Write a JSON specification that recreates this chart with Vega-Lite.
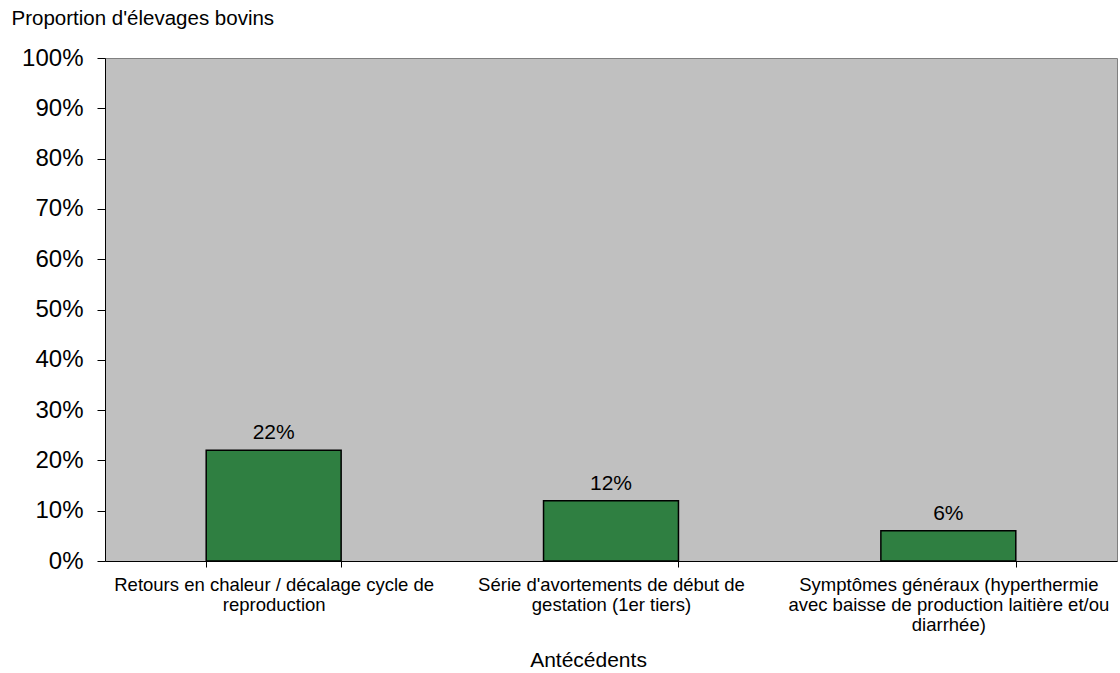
{
  "$schema": "https://vega.github.io/schema/vega-lite/v6.json",
  "autosize": {"type": "none"},
  "width": 1012,
  "height": 503,
  "padding": {"left": 105, "top": 58, "right": 3, "bottom": 112},
  "background": "#ffffff",
  "config": {
    "font": "Liberation Sans",
    "view": {"fill": "#c0c0c0", "stroke": "#808080", "strokeWidth": 1}
  },
  "data": {
    "values": [
      {"antecedent": "Retours en chaleur / décalage cycle de\nreproduction", "proportion": 0.22},
      {"antecedent": "Série d'avortements de début de\ngestation (1er tiers)", "proportion": 0.12},
      {"antecedent": "Symptômes généraux (hyperthermie\navec baisse de production laitière et/ou\ndiarrhée)", "proportion": 0.06}
    ]
  },
  "encoding": {
    "x": {
      "field": "antecedent",
      "type": "nominal",
      "sort": null,
      "scale": {"paddingInner": 0.6, "paddingOuter": 0.3},
      "axis": {
        "title": "Antécédents",
        "titleFontSize": 21,
        "titleFontWeight": "normal",
        "titleColor": "#000000",
        "titlePadding": 16,
        "titleX": 483,
        "titleAlign": "center",
        "labelExpr": "split(datum.label, '\\n')",
        "labelAngle": 0,
        "labelFontSize": 18.5,
        "labelColor": "#000000",
        "labelLineHeight": 20,
        "labelPadding": 8,
        "labelLimit": 400,
        "tickBand": "extent",
        "tickSize": 6,
        "tickColor": "#000000",
        "domainColor": "#000000",
        "grid": false
      }
    },
    "y": {
      "field": "proportion",
      "type": "quantitative",
      "scale": {"domain": [0, 1], "nice": false},
      "axis": {
        "title": "Proportion d'élevages bovins",
        "titleAngle": 0,
        "titleX": -94,
        "titleY": -40,
        "titleAlign": "left",
        "titleBaseline": "middle",
        "titleFontSize": 20.5,
        "titleFontWeight": "normal",
        "titleColor": "#000000",
        "format": ".0%",
        "values": [0, 0.1, 0.2, 0.3, 0.4, 0.5, 0.6, 0.7, 0.8, 0.9, 1],
        "labelFontSize": 24,
        "labelColor": "#000000",
        "labelPadding": 14,
        "tickSize": 8,
        "tickColor": "#000000",
        "domainColor": "#000000",
        "grid": false
      }
    }
  },
  "layer": [
    {
      "mark": {"type": "bar", "color": "#2f7f41", "stroke": "#000000", "strokeWidth": 1.5}
    },
    {
      "mark": {"type": "text", "dy": -17, "fontSize": 21, "color": "#000000"},
      "encoding": {
        "text": {"field": "proportion", "type": "quantitative", "format": ".0%"}
      }
    }
  ]
}
